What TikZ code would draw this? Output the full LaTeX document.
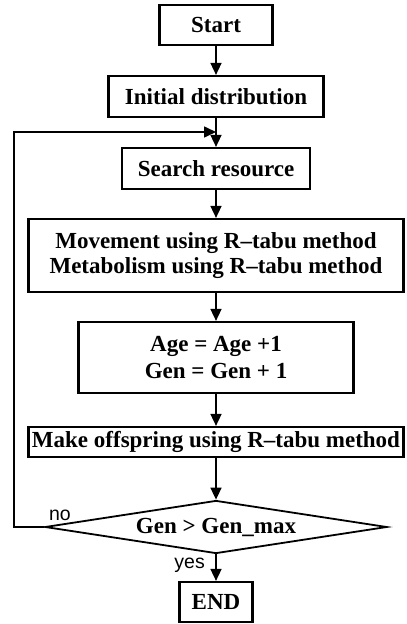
\documentclass[tikz,border=0pt]{standalone}
\usepackage{fontspec}
\setmainfont{Liberation Serif}
\newfontfamily\labelfont{Liberation Sans}
\usetikzlibrary{arrows.meta,shapes.geometric}

\begin{document}
\begin{tikzpicture}[x=1pt,y=-1pt,
  box/.style={draw,line width=2.2pt,inner sep=0pt,align=center,
    font=\bfseries\fontsize{23}{24.5}\selectfont},
  test/.style={draw,diamond,line width=1.8pt,inner sep=0pt,aspect=6.45,
    font=\bfseries\fontsize{23}{24.5}\selectfont},
  flow/.style={line width=1.6pt,-{Triangle[length=12pt,width=11pt]}},
  lbl/.style={inner sep=0pt,font=\labelfont\fontsize{19.5}{21}\selectfont}]
\useasboundingbox (0,0) rectangle (407,624);

\node[box,minimum width=113pt,minimum height=40pt] (S) at (216,25) {Start};
\node[box,minimum width=215pt,minimum height=41pt] (I) at (216,96.5) {Initial distribution};
\node[box,minimum width=188pt,minimum height=41pt] (R) at (216,168.5) {Search resource};
\node[box,minimum width=375pt,minimum height=73pt] (M) at (216,255.5)
  {Movement using R--tabu method\\Metabolism using R--tabu method};
\node[box,minimum width=275pt,minimum height=71pt,
  font=\bfseries\fontsize{23}{27}\selectfont] (A) at (216,357.5)
  {Age = Age +1\\Gen = Gen + 1};
\node[box,minimum width=375pt,minimum height=30pt] (O) at (216,442)
  {Make offspring using R--tabu method};
\node[test,minimum width=342pt,minimum height=53pt] (D) at (216,527) {Gen > Gen\_max};
\node[box,minimum width=73pt,minimum height=40pt] (E) at (216,602) {END};

\node[lbl,anchor=base] (no) at (60,520) {no};
\node[lbl,anchor=base east] (yes) at (205,568) {yes};

% loop back into the search step
\coordinate (J) at (216,132);
\coordinate (L) at (14,527);

\draw[flow] (S) -- (I);
\draw[flow] (I) -- (R);
\draw[flow] (R) -- (M);
\draw[flow] (M) -- (A);
\draw[flow] (A) -- (O);
\draw[flow] (O) -- (D);
\draw[flow] (D) -- (E);
\draw[flow] (D.west) -- (L) |- (J);

\end{tikzpicture}
\end{document}
